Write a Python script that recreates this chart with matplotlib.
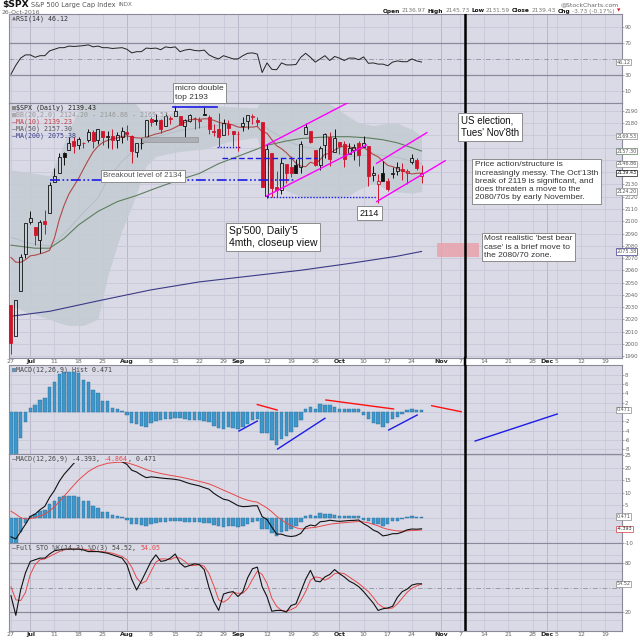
import matplotlib
matplotlib.use("Agg")
import matplotlib.pyplot as plt
import numpy as np
import pandas as pd
from matplotlib.patches import Rectangle, ConnectionPatch
from matplotlib.transforms import blended_transform_factory

# $SPX daily candles, 27 Jun - 26 Oct 2016, plus the empty weeks to the right
holidays = ["2016-07-04", "2016-09-05"]
first_bar, last_bar, axis_end = "2016-06-27", "2016-10-26", "2016-12-23"
election_day = "2016-11-08"

opens = [2031.45, 2006.67, 2042.69, 2073.17, 2099.34, 2095.05, 2084.43, 2100.42, 2106.97, 2131.72,
         2139.50, 2155.81, 2157.88, 2165.13, 2162.04, 2163.79, 2166.10, 2172.91, 2166.47, 2173.71,
         2168.97, 2169.81, 2166.05, 2168.83, 2173.15, 2169.94, 2156.81, 2163.51, 2168.79, 2183.76,
         2182.24, 2182.81, 2177.97, 2183.74, 2186.08, 2186.24, 2177.84, 2181.90, 2184.24, 2181.58,
         2187.81, 2185.09, 2173.29, 2175.10, 2170.19, 2179.45, 2173.56, 2171.33, 2177.49, 2181.61,
         2185.17, 2182.76, 2181.26, 2120.86, 2155.40, 2127.86, 2125.36, 2146.48, 2143.99, 2145.94,
         2144.58, 2170.94, 2173.29, 2158.54, 2146.04, 2161.85, 2168.90, 2156.51, 2164.33, 2163.37,
         2155.15, 2158.22, 2164.19, 2160.39, 2161.35, 2137.67, 2130.26, 2139.68, 2132.95, 2138.31,
         2140.81, 2142.51, 2139.43, 2148.50, 2149.72, 2136.97]
highs = [2031.45, 2036.09, 2073.13, 2098.94, 2108.71, 2095.05, 2100.72, 2109.08, 2131.71, 2143.16,
         2155.40, 2156.45, 2169.05, 2169.05, 2168.35, 2164.63, 2175.63, 2174.56, 2175.11, 2173.71,
         2173.54, 2174.98, 2172.85, 2177.09, 2178.29, 2170.20, 2163.79, 2168.19, 2182.87, 2185.44,
         2187.66, 2183.41, 2188.45, 2186.28, 2193.81, 2186.24, 2183.08, 2187.81, 2185.00, 2185.15,
         2193.42, 2186.66, 2179.00, 2187.94, 2183.48, 2182.27, 2173.79, 2173.56, 2184.87, 2186.57,
         2187.87, 2184.94, 2181.26, 2163.30, 2155.40, 2141.33, 2151.31, 2146.48, 2153.61, 2150.80,
         2165.11, 2179.99, 2173.75, 2158.54, 2161.13, 2172.40, 2172.67, 2175.30, 2164.41, 2165.46,
         2163.95, 2162.93, 2165.86, 2169.60, 2161.56, 2145.36, 2138.19, 2149.19, 2135.61, 2144.38,
         2148.44, 2147.18, 2142.63, 2154.79, 2151.44, 2145.73]
lows = [1991.68, 2006.67, 2042.69, 2070.00, 2097.90, 2080.86, 2074.02, 2089.39, 2106.97, 2131.72,
        2139.50, 2146.21, 2157.88, 2155.79, 2159.07, 2159.40, 2164.89, 2159.75, 2163.24, 2161.95,
        2160.18, 2159.07, 2159.74, 2163.49, 2166.21, 2147.58, 2152.14, 2159.07, 2168.79, 2177.85,
        2178.61, 2172.00, 2177.97, 2179.42, 2186.08, 2178.14, 2168.50, 2180.81, 2175.13, 2175.96,
        2186.80, 2171.25, 2169.74, 2160.39, 2170.19, 2170.41, 2161.35, 2157.09, 2173.59, 2175.10,
        2179.07, 2177.49, 2127.81, 2119.12, 2119.99, 2119.90, 2122.36, 2131.20, 2135.91, 2139.17,
        2139.57, 2170.94, 2163.97, 2145.04, 2141.55, 2151.79, 2145.20, 2156.51, 2154.77, 2144.01,
        2155.15, 2150.28, 2144.85, 2160.39, 2128.84, 2132.77, 2114.72, 2132.98, 2124.43, 2135.49,
        2138.15, 2133.44, 2130.09, 2146.91, 2141.93, 2131.59]
closes = [2000.54, 2036.09, 2070.77, 2098.86, 2102.95, 2088.55, 2099.73, 2097.90, 2129.90, 2137.16,
          2152.14, 2152.43, 2163.75, 2161.74, 2166.89, 2163.78, 2173.02, 2165.17, 2175.03, 2168.48,
          2169.18, 2166.58, 2170.06, 2173.60, 2170.84, 2157.03, 2163.79, 2164.25, 2182.87, 2180.89,
          2181.74, 2175.49, 2185.79, 2184.05, 2190.15, 2178.15, 2182.22, 2187.02, 2183.87, 2182.64,
          2186.90, 2175.44, 2172.47, 2169.04, 2180.38, 2176.12, 2170.95, 2170.86, 2179.98, 2186.48,
          2186.16, 2181.30, 2127.81, 2159.04, 2127.02, 2125.77, 2147.26, 2139.16, 2139.12, 2139.76,
          2163.12, 2177.18, 2164.69, 2146.10, 2159.93, 2171.37, 2151.13, 2168.27, 2161.20, 2150.49,
          2159.73, 2160.77, 2153.74, 2163.66, 2136.73, 2139.18, 2132.55, 2132.98, 2126.50, 2139.60,
          2144.29, 2141.34, 2141.16, 2151.33, 2143.16, 2139.43]
prev_close = 2037.41

ma10 = [2070.5, 2066.6, 2066.5, 2068.6, 2071.8, 2072.3, 2073.4, 2074.6, 2076.3, 2086.3,
        2101.4, 2113.0, 2122.3, 2128.6, 2135.0, 2142.6, 2149.9, 2156.6, 2161.1, 2164.3,
        2166.0, 2167.4, 2168.0, 2169.2, 2169.6, 2168.9, 2168.0, 2167.9, 2168.7, 2169.9,
        2171.2, 2172.1, 2173.6, 2174.7, 2176.6, 2178.7, 2180.6, 2182.9, 2183.0, 2183.1,
        2183.6, 2183.6, 2182.3, 2180.8, 2179.8, 2179.6, 2178.5, 2176.9, 2176.5, 2176.9,
        2176.8, 2177.4, 2172.9, 2171.9, 2166.6, 2161.6, 2159.2, 2156.0, 2151.9, 2147.3,
        2145.0, 2144.5, 2148.2, 2146.9, 2150.2, 2154.8, 2155.2, 2158.1, 2160.3, 2161.4,
        2161.0, 2159.4, 2158.3, 2160.0, 2157.7, 2154.5, 2152.6, 2149.1, 2145.6, 2144.6,
        2143.0, 2141.1, 2139.8, 2138.6, 2139.2, 2139.23]

ma50_days = [0, 5, 8, 11, 14, 18, 22, 26, 30, 35, 39, 43, 46, 49, 53, 57, 60, 64, 67, 70, 74, 77, 80, 83, 85]
ma50 = [2080.5, 2078, 2078, 2086, 2097, 2108, 2116, 2121, 2127, 2134, 2139, 2147, 2151.5, 2156, 2162,
        2165.5, 2167.5, 2168.5, 2169, 2169, 2168, 2166.5, 2164, 2160, 2157.3]
ma200_days = [0, 8, 18, 29, 39, 50, 60, 70, 80, 85]
ma200 = [2022.5, 2026.5, 2035, 2044, 2050.5, 2055.5, 2060, 2065.5, 2071.5, 2075.38]

bb_days = [0, 3, 5, 8, 10, 12, 15, 18, 20, 23, 25, 28, 30, 35, 40, 45, 50, 51, 52, 53, 54, 55, 57,
           60, 65, 68, 70, 72, 75, 78, 80, 83, 85]
bb_upper = [2142, 2140, 2139, 2137, 2154, 2174, 2200, 2210, 2213, 2205, 2200, 2185, 2184, 2191, 2195,
            2193.5, 2192.6, 2192.5, 2203, 2202, 2207, 2210, 2208, 2202, 2198, 2191, 2185, 2180.5,
            2178, 2180, 2180, 2175, 2169.53]
bb_mid = [2087, 2083, 2081, 2080, 2086, 2094, 2107, 2119, 2134, 2149, 2156, 2165, 2169, 2174, 2177,
          2179, 2180, 2180, 2178, 2176, 2173, 2171, 2166, 2161, 2158, 2155, 2153, 2153, 2155, 2153,
          2152, 2149, 2146.86]
bb_lower = [2032, 2026, 2024, 2020, 2017, 2015, 2015, 2020, 2055, 2093, 2112, 2145, 2153, 2157, 2159,
            2165, 2168, 2168, 2152, 2150, 2139, 2131, 2125, 2120, 2119, 2120, 2121, 2126, 2131, 2126,
            2124, 2123, 2124.20]

rsi = [31, 42, 51, 55, 55, 52, 54, 54, 60, 62, 64, 64, 66, 65.5, 66, 66.5, 67.5, 65, 66, 64,
       64, 63, 63.5, 64, 62, 57.5, 59, 59, 63.5, 63, 63.5, 61.5, 65, 64, 65, 59, 61, 62, 60.5, 60,
       61, 55, 52, 50, 54, 52, 50, 50, 54, 57, 57.5, 56, 33, 45, 37, 36.5, 45, 42.5, 42.5, 43,
       52, 57, 52, 46, 50, 54, 48, 53, 51, 48, 51, 51, 49, 52.5, 44.5, 45, 43.5, 43.5, 41.5, 46,
       47.5, 46.5, 46.5, 50, 47.5, 46.12]

macd = [-7.6, -8.47, -5.57, -2.6, 0.5, 1.45, 3.18, 4.55, 8.08, 10.9,
        14.53, 17.3, 19.48, 21.65, 23.45, 23.55, 24.88, 24.25, 24.55, 23.43,
        24.0, 22.83, 22.68, 22.33, 21.25, 18.95, 18.23, 16.98, 15.98, 16.3,
        16.1, 15.85, 15.65, 15.5, 15.28, 14.95, 14.25, 13.6, 13.15, 12.7,
        12.0, 11.38, 9.73, 8.48, 7.38, 6.98, 5.93, 4.83, 4.43, 4.5,
        4.75, 4.8, 0.45, -0.7, -3.72, -6.5, -6.53, -7.2, -7.48, -7.18,
        -6.23, -3.68, -2.9, -3.25, -1.6, -1.4, -1.0, -1.23, -1.45, -1.28,
        -1.1, -1.05, -0.9, -2.38, -3.43, -4.9, -5.73, -7.23, -6.9, -6.35,
        -6.33, -5.73, -4.83, -4.48, -4.58, -4.393]
macd_signal = [2.6, 1.43, 0.03, -0.5, -0.3, 0.05, 0.68, 1.45, 2.78, 4.4,
               6.43, 8.6, 10.78, 12.95, 15.05, 16.75, 18.38, 19.55, 20.55, 21.13,
               21.7, 21.93, 22.08, 22.13, 21.95, 21.35, 20.73, 19.98, 19.18, 18.6,
               18.1, 17.65, 17.25, 16.9, 16.58, 16.25, 15.85, 15.4, 14.95, 14.5,
               14.0, 13.48, 12.73, 11.88, 10.98, 10.18, 9.33, 8.43, 7.63, 7.0,
               6.55, 6.2, 5.05, 3.9, 2.38, 0.6, -0.83, -2.1, -3.18, -3.98,
               -4.43, -4.28, -4.0, -3.85, -3.4, -3.0, -2.6, -2.33, -2.15, -1.98,
               -1.8, -1.65, -1.5, -1.68, -2.03, -2.6, -3.23, -4.03, -4.6, -4.95,
               -5.23, -5.33, -5.23, -5.08, -4.98, -4.864]
macd_hist = [-10.2, -9.9, -5.6, -2.1, 0.8, 1.4, 2.5, 3.1, 5.3, 6.5,
             8.1, 8.7, 8.7, 8.7, 8.4, 6.8, 6.5, 4.7, 4.0, 2.3,
             2.3, 0.9, 0.6, 0.2, -0.7, -2.4, -2.5, -3.0, -3.2, -2.3,
             -2.0, -1.8, -1.6, -1.4, -1.3, -1.3, -1.6, -1.8, -1.8, -1.8,
             -2.0, -2.1, -3.0, -3.4, -3.6, -3.2, -3.4, -3.6, -3.2, -2.5,
             -1.8, -1.4, -4.6, -4.6, -6.1, -7.1, -5.7, -5.1, -4.3, -3.2,
             -1.8, 0.6, 1.1, 0.6, 1.8, 1.6, 1.6, 1.1, 0.7, 0.7,
             0.7, 0.6, 0.6, -0.7, -1.4, -2.3, -2.5, -3.2, -2.3, -1.4,
             -1.1, -0.4, 0.4, 0.6, 0.4, 0.471]

sto_k = [40, 16, 47, 68, 82, 84, 86, 86, 91, 95, 96, 97, 97, 97, 97, 96, 94, 94, 94, 93,
         92, 90, 88, 86, 78, 60, 47, 58, 70, 82, 90, 82, 83, 86, 91, 80, 75, 77, 79, 78,
         72, 50, 33, 22, 42, 44, 45, 39, 45, 62, 73, 75, 51, 39, 21, 22, 22, 20, 28, 30,
         45, 60, 71, 58, 57, 63, 66, 72, 67, 63, 58, 55, 51, 45, 38, 31, 22, 24, 25, 27,
         38, 45, 48, 53, 54.5, 54.52]
sto_d = [51, 35, 34, 44, 66, 78, 84, 85, 88, 91, 94, 96, 97, 97, 97, 97, 96, 95, 94, 94,
         93, 92, 90, 88, 84, 75, 62, 55, 58, 70, 81, 85, 85, 84, 87, 86, 82, 77, 77, 78,
         76, 67, 52, 35, 32, 36, 44, 43, 43, 49, 60, 70, 66, 55, 37, 27, 22, 21, 23, 26,
         34, 45, 59, 63, 62, 59, 62, 67, 68, 67, 63, 59, 55, 50, 45, 38, 30, 26, 24, 25,
         30, 37, 44, 49, 52, 54.05]

# hand-drawn trend lines: ((day, value), (day, value))
price_channels = [((52.9, 2162.2), (69.8, 2196.8)), ((52.9, 2120.6), (73.6, 2162.2)),
                  ((75.7, 2147.3), (86.1, 2172.3)), ((75.7, 2116.0), (89.9, 2149.4))]
hist_red_lines = [((51.0, 1.6), (55.1, 0.43)), ((65.2, 2.58), (79.2, 0.65)), ((87.1, 1.35), (93.2, 0.06))]
hist_blue_lines = [((47.2, -4.1), (51.0, -1.94)), ((55.2, -7.96), (65.0, -1.35)),
                   ((78.2, -3.87), (84.1, -0.65)), ((96.1, -6.24), (113.1, -0.43))]

# ---------------- axis days / ticks ----------------
past = pd.bdate_range(first_bar, last_bar)
past = past[~past.isin(pd.to_datetime(holidays))]
days = past.append(pd.bdate_range(pd.Timestamp(last_bar) + pd.Timedelta(days=1), axis_end))
x = np.arange(len(closes))
elec = int(np.where(days == pd.Timestamp(election_day))[0][0])

month_idx = [i for i in range(1, len(days)) if days[i].month != days[i - 1].month]
tick_pos, tick_lab, tick_is_month = [], [], []
for i, d in enumerate(days):
    if i in month_idx:
        tick_pos.append(i); tick_lab.append(d.strftime("%b")); tick_is_month.append(True)
    elif d.weekday() == 0 and all(abs(i - m) > 1 for m in month_idx):
        tick_pos.append(i); tick_lab.append(str(d.day)); tick_is_month.append(False)

BG = "#dadae7"
GRID = "#c8c8d8"
MGRID = "#b2b2c4"
RED = "#d0142c"
BLUE = "#1c1ce6"
HIST = "#3f97c9"

fig = plt.figure(figsize=(6.4, 6.4), dpi=100, facecolor="white")


def panel(top, bottom):
    return fig.add_axes([9 / 640, 1 - bottom / 640, 613 / 640, (bottom - top) / 640])


ax_rsi = panel(14, 103)
ax_px = panel(103, 358)
ax_hist = panel(365, 454)
ax_macd = panel(454, 543)
ax_sto = panel(543, 631)


def style(ax, ylim, yticks, hgrid):
    ax.set_facecolor(BG)
    ax.set_xlim(-0.41, 126.5)
    ax.set_ylim(*ylim)
    ax.yaxis.tick_right()
    ax.set_yticks(yticks)
    ax.set_yticklabels(["{:g}".format(v) for v in yticks])
    ax.tick_params(axis="y", length=1.5, width=0.5, color="#888", labelsize=3.9, labelcolor="#666", pad=0.6)
    ax.set_xticks(tick_pos)
    ax.set_xticklabels([])
    ax.tick_params(axis="x", length=0, pad=0.6)
    for s in ax.spines.values():
        s.set_color("#8a8a9a")
        s.set_linewidth(0.8)
    for p, m in zip(tick_pos, tick_is_month):
        ax.axvline(p, color=MGRID if m else GRID, lw=0.6, zorder=0.5)
    for v in hgrid:
        ax.axhline(v, color=GRID, lw=0.6, zorder=0.5)
    ax.axvline(elec, color="black", lw=1.8, zorder=4)


def xlabels(ax):
    ax.set_xticklabels(tick_lab, fontsize=4.5)
    for t, m in zip(ax.get_xticklabels(), tick_is_month):
        t.set_color("#222" if m else "#666")
        t.set_fontweight("bold" if m else "normal")


def legend_row(ax, row, parts, fs=4.8, bg=None):
    xo = 2.0
    for text, color in parts:
        ax.annotate(text, xy=(0, 1), xycoords="axes fraction", xytext=(xo, -1.2 - row * 5.0),
                    textcoords="offset points", fontsize=fs, family=["DejaVu Sans Mono", "DejaVu Sans"],
                    color=color, va="top", ha="left", zorder=9,
                    bbox=None if bg is None else dict(boxstyle="square,pad=0.12", fc=bg, ec="none"))
        xo += 0.602 * fs * len(text)


def tag(ax, val, text, ec="#8a8a8a", color="#555"):
    tr = blended_transform_factory(ax.transAxes, ax.transData)
    ax.text(0.991, val, text, transform=tr, fontsize=3.5, color=color, va="center", ha="left",
            zorder=9, clip_on=False, bbox=dict(boxstyle="square,pad=0.15", fc="white", ec=ec, lw=0.5))


def note(ax, xv, yv, text, fs, color="#333"):
    ax.text(xv, yv, text, fontsize=fs, family="Liberation Sans", color=color, va="top", ha="left",
            linespacing=1.25, zorder=8, clip_on=False,
            bbox=dict(boxstyle="square,pad=0.3", fc="white", ec="#8c8c8c", lw=0.7))


# ---------------- RSI ----------------
style(ax_rsi, (-5, 106), [10, 30, 70, 90], [10, 90])
ax_rsi.axhline(70, color="#8a8a9a", lw=0.9, zorder=0.6)
ax_rsi.axhline(30, color="#8a8a9a", lw=0.9, zorder=0.6)
ax_rsi.axhline(50, color="#9a9aaa", lw=0.7, ls=(0, (5, 2, 1, 2)), zorder=0.6)
ax_rsi.plot(x, rsi, color="#222", lw=0.7, zorder=3)
legend_row(ax_rsi, 0, [("\u25b2", "#777"), ("RSI(14) 46.12", "#333")])
tag(ax_rsi, 46.12, "46.12")

# ---------------- price ----------------
px_ticks = [v for v in range(1990, 2200, 10) if v not in (2140, 2150, 2160, 2170)]
style(ax_px, (1988.4, 2196.5), px_ticks, range(1990, 2200, 10))
ax_px.fill_between(bb_days, bb_lower, bb_upper, color="#c4ccd2", alpha=0.9, lw=0, zorder=1)
ax_px.plot(bb_days, bb_mid, color="#b2bcc4", lw=0.6, zorder=1.5)
ax_px.plot(ma200_days, ma200, color="#3a3a86", lw=0.8, zorder=2)
ax_px.plot(ma50_days, ma50, color="#5e7e5e", lw=0.8, zorder=2)
ax_px.plot(x, ma10, color="#b04a4a", lw=0.8, zorder=2)

o, h, l, c = map(np.array, (opens, highs, lows, closes))
prev = np.concatenate([[prev_close], c[:-1]])
col = np.where(c < prev, RED, "#111111")
body_lo, body_hi = np.minimum(o, c), np.maximum(o, c)
ax_px.vlines(x, l, body_lo, colors=col, lw=0.7, zorder=3)
ax_px.vlines(x, body_hi, h, colors=col, lw=0.7, zorder=3)
ax_px.bar(x, body_hi - body_lo, bottom=body_lo, width=0.62,
          color=[cc if cl < op else "none" for cc, cl, op in zip(col, c, o)],
          edgecolor=col, lw=0.6, zorder=3)

# levels and channels
ax_px.plot([33.5, 42.7], [2193, 2193], color=BLUE, lw=1.2, zorder=5)
ax_px.plot([8.1, 58.8], [2134, 2134], color=BLUE, lw=1.2, ls=(0, (6, 1.5, 1, 1.5, 1, 1.5)), zorder=5)
ax_px.plot([43.7, 63.4], [2151.5, 2151.5], color=BLUE, lw=1.0, ls=(0, (4, 2)), zorder=5)
ax_px.plot([42.6, 47.4], [2160.5, 2160.5], color=BLUE, lw=1.0, ls=(0, (1, 1.2)), zorder=5)
ax_px.plot([53.0, 75.8], [2120, 2120], color=BLUE, lw=1.0, ls=(0, (1, 1.2)), zorder=5)
for (x0, y0), (x1, y1) in price_channels:
    ax_px.plot([x0, x1], [y0, y1], color="#ff00ff", lw=1.0, zorder=5)
ax_px.add_patch(Rectangle((27.1, 2165), 11.7, 4, fc="#a9a9b0", ec="#8a8a8a", lw=0.5, alpha=0.8, zorder=4.5))
ax_px.add_patch(Rectangle((88.2, 2071), 8.7, 11, fc="#e8a2ac", ec="none", alpha=0.85, zorder=3.5))

note(ax_px, 34.0, 2210.8, "micro double\ntop 2193", 6.0)
note(ax_px, 19.15, 2139.8, "Breakout level of 2134", 5.7, color="#555")
note(ax_px, 72.15, 2110.4, "2114", 6.5, color="#111")
note(ax_px, 45.1, 2096.4, "Sp'500, Daily'5\n4mth, closeup view", 7.5, color="#111")
note(ax_px, 93.2, 2185.9, "US election,\nTues' Nov'8th", 7.0, color="#111")
note(ax_px, 96.0, 2148.8, "Price action/structure is\nincreasingly messy. The Oct'13th\n"
     "break of 2119 is significant, and\ndoes threaten a move to the\n2080/70s by early November.", 6.0)
note(ax_px, 98.0, 2088.4, "Most realistic 'best bear\ncase' is a brief move to\nthe 2080/70 zone.", 6.0)

legend_row(ax_px, 0, [("\u25a0", "#888"), ("$SPX (Daily) 2139.43", "#222")])
legend_row(ax_px, 1, [("\u25a0", "#aaa"), ("BB(20,2.0) 2124.20 - 2146.86 - 2169.53", "#999")])
legend_row(ax_px, 2, [("\u2014MA(10) 2139.23", "#c04040")])
legend_row(ax_px, 3, [("\u2014MA(50) 2157.30", "#555")])
legend_row(ax_px, 4, [("\u2014MA(200) 2075.38", "#3a3a86")])
tag(ax_px, 2169.53, "2169.53")
tag(ax_px, 2157.30, "2157.30", ec="#5e7e5e")
tag(ax_px, 2146.86, "2146.86")
tag(ax_px, 2139.43, "2139.43", ec="#111", color="#111")
tag(ax_px, 2124.20, "2124.20")
tag(ax_px, 2075.38, "2075.38", ec="#3a3a86")
xlabels(ax_px)

# ---------------- MACD histogram ----------------
style(ax_hist, (-9.03, 10.1), [-8, -6, -4, -2, 2, 4, 6, 8], [-8, -6, -4, -2, 0, 2, 4, 6, 8])
ax_hist.bar(x, macd_hist, width=0.72, color=HIST, edgecolor="#2a6d99", lw=0.3, zorder=2)
for (x0, y0), (x1, y1) in hist_red_lines:
    ax_hist.plot([x0, x1], [y0, y1], color="#ff1010", lw=1.0, zorder=5)
for (x0, y0), (x1, y1) in hist_blue_lines:
    ax_hist.plot([x0, x1], [y0, y1], color=BLUE, lw=1.0, zorder=5)
legend_row(ax_hist, 0, [("\u25a0", "#6a8fb0"), ("MACD(12,26,9) Hist 0.471", "#444")])
tag(ax_hist, 0.471, "0.471")

# ---------------- MACD ----------------
style(ax_macd, (-10.06, 25.4), [-10, 5, 10, 15, 20, 25], [-5, 0, 5, 10, 15, 20, 25])
ax_macd.bar(x, macd_hist, width=0.72, color=HIST, edgecolor="#2a6d99", lw=0.3, zorder=2)
ax_macd.plot(x, macd_signal, color="#e84848", lw=0.7, zorder=3)
ax_macd.plot(x, macd, color="#111", lw=0.8, zorder=3)
legend_row(ax_macd, 0, [("\u2014MACD(12,26,9) -4.393, ", "#444"), ("-4.864", "#e84848"), (", 0.471", "#444")],
           bg=BG)
tag(ax_macd, 0.471, "0.471")
tag(ax_macd, -4.393, "-4.393", ec="#d04040", color="#333")

# ---------------- Full stochastics ----------------
style(ax_sto, (-3.2, 104.5), [20, 80], [10, 30, 40, 60, 70, 90])
ax_sto.axhline(80, color="#8a8a9a", lw=0.9, zorder=0.6)
ax_sto.axhline(20, color="#8a8a9a", lw=0.9, zorder=0.6)
ax_sto.axhline(50, color="#9a9aaa", lw=0.7, ls=(0, (5, 2, 1, 2)), zorder=0.6)
ax_sto.plot(x, sto_d, color="#e84848", lw=0.7, zorder=3)
ax_sto.plot(x, sto_k, color="#111", lw=0.8, zorder=3)
legend_row(ax_sto, 0, [("\u2014Full STO %K(14,3) %D(3) 54.52, ", "#444"), ("54.05", "#e84848")])
tag(ax_sto, 54.52, "54.52")
xlabels(ax_sto)

# election line through the label strip between price and indicator panels
fig.add_artist(ConnectionPatch(xyA=(elec, 1988.4), coordsA=ax_px.transData,
                               xyB=(elec, 10.1), coordsB=ax_hist.transData, color="black", lw=1.8))

# ---------------- header ----------------
renderer = fig.canvas.get_renderer()


def fx(p):
    return p / 640


def fy(p):
    return 1 - p / 640


def text_row(y, start, parts, right=False, gap=2.5):
    # parts: (text, size, bold, color); laid out left->right, or right->left from `start`
    pos = start
    seq = reversed(parts) if right else parts
    for txt, fs, bold, colr in seq:
        t = fig.text(fx(pos), fy(y), txt, fontsize=fs, weight="bold" if bold else "normal",
                     color=colr, va="center", ha="right" if right else "left")
        w = t.get_window_extent(renderer=renderer).width
        pos = pos - w - gap if right else pos + w + gap


text_row(5, 2, [("$SPX", 6.6, True, "#111"), ("S&P 500 Large Cap Index", 4.8, False, "#555"),
                ("INDX", 4.0, False, "#666")])
fig.text(fx(2), fy(13), "26-Oct-2016", fontsize=4.4, va="center", color="#666")
fig.text(fx(619), fy(5), "@StockCharts.com", fontsize=4.4, va="center", ha="right", color="#666")
text_row(11, 620, [("Open", 4.2, True, "#111"), ("2136.97", 4.2, False, "#777"),
                   ("High", 4.2, True, "#111"), ("2145.73", 4.2, False, "#777"),
                   ("Low", 4.2, True, "#111"), ("2131.59", 4.2, False, "#777"),
                   ("Close", 4.2, True, "#111"), ("2139.43", 4.2, False, "#777"),
                   ("Chg", 4.2, True, "#111"), ("-3.73 (-0.17%)", 4.2, False, "#777"),
                   ("\u25bc", 3.2, False, RED)], right=True, gap=1.8)

fig.savefig("out.png", dpi=100, facecolor="white")
